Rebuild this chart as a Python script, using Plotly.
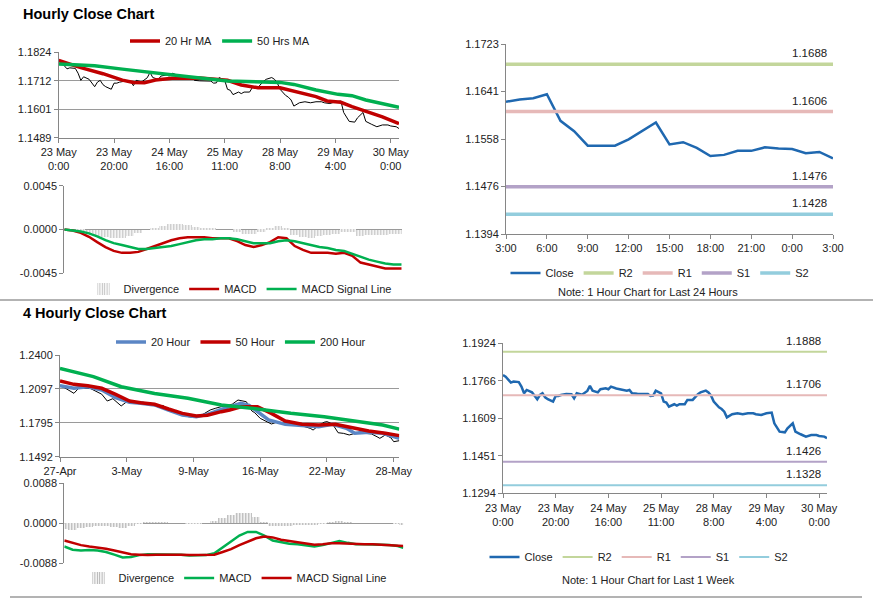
import plotly.graph_objects as go

# ---------------- DATA ----------------
# Hourly (last week) close, index = hour since 23 May 0:00
week_x = [0,1,3,4,6,7,8,9,11,12,13,14,15,16,17,19,20,21,22,24,26,27,28,29,30,32,33,34,36,37,
          39,40,41,43,45,47,48,49,51,53,55,56,57,58,60,61,62,63,65,66,67,69,70,72,73,74,75,77,78,79,
          80,82,83,84,85,87,89,91,93,95,96,98,100,102,103,105,107,108,110,111,113,115,117,119,120,122,123]
week_close = [1.1791,1.1784,1.1759,1.1763,1.1761,1.1742,1.1714,1.1728,1.1718,1.1703,
              1.1689,1.1707,1.1714,1.1697,1.1689,1.1679,1.1703,1.1703,1.1707,1.1711,
              1.1710,1.1693,1.1714,1.1711,1.1708,1.1724,1.1745,1.1725,1.1718,1.1731,
              1.1735,1.1731,1.1742,1.1734,1.1728,1.1725,1.1728,1.1714,1.1712,1.1712,
              1.1711,1.1703,1.1704,1.1725,1.1714,1.1679,1.1675,1.1658,1.1668,1.1662,
              1.1668,1.1668,1.1686,1.1686,1.1700,1.1710,1.1718,1.1725,1.1718,1.1704,
              1.1679,1.1655,1.1648,1.1637,1.1613,1.1626,1.1630,1.1626,1.1630,1.1630,
              1.1626,1.1623,1.1630,1.1633,1.1588,1.1553,1.1550,1.1567,1.1588,1.1553,
              1.1542,1.1532,1.1539,1.1539,1.1535,1.1532,1.1525]
hour_ticks = [0, 20, 40, 60, 80, 100, 120]
hour_labels = ["23 May<br>0:00", "23 May<br>20:00", "24 May<br>16:00", "25 May<br>11:00",
               "28 May<br>8:00", "29 May<br>4:00", "30 May<br>0:00"]

ma20_x = [0,8,16,23,27,31,35,41,51,56,61,66,72,80,87,93,97,102,106,111,117,123]
ma20_y = [1.1792,1.1764,1.1740,1.1715,1.1706,1.1705,1.1715,1.1722,1.1723,1.1720,1.1714,
          1.1696,1.1685,1.1685,1.1667,1.1650,1.1633,1.1628,1.1611,1.1594,1.1571,1.1544]
ma50_x = [0,13,23,35,47,61,72,80,85,93,101,106,111,117,123]
ma50_y = [1.1778,1.1771,1.1758,1.1742,1.1728,1.1711,1.1709,1.1706,1.1698,1.1676,1.1659,
          1.1654,1.1637,1.1624,1.1608]

macd1_x = [0,3,6,9,12,15,18,21,24,27,30,33,36,39,42,45,48,51,54,57,60,63,66,69,72,75,78,81,
           84,87,90,93,96,99,102,105,108,111,114,117,120,123]
macd1 = [0,-0.0001,-0.00035,-0.00075,-0.0013,-0.0018,-0.0022,-0.0024,-0.0024,-0.0023,-0.0020,
         -0.0017,-0.0014,-0.0011,-0.0009,-0.0008,-0.0008,-0.0008,-0.0009,-0.0009,-0.0009,-0.0012,
         -0.0016,-0.0018,-0.0016,-0.0013,-0.0008,-0.0009,-0.0017,-0.0021,-0.0024,-0.0024,-0.0024,
         -0.0025,-0.0024,-0.0027,-0.0034,-0.0036,-0.0038,-0.0040,-0.0040,-0.0040]
signal1 = [0,-0.0001,-0.0002,-0.0004,-0.0007,-0.0011,-0.0014,-0.0016,-0.0018,-0.0020,-0.0020,
           -0.0019,-0.0018,-0.0017,-0.0015,-0.0013,-0.0011,-0.0010,-0.0010,-0.0009,-0.0009,-0.0010,
           -0.0012,-0.0014,-0.0014,-0.0014,-0.0012,-0.0011,-0.0012,-0.0014,-0.0016,-0.0018,-0.0019,
           -0.0021,-0.0022,-0.0025,-0.0028,-0.0031,-0.0033,-0.0035,-0.0036,-0.0036]

# Last 24 hours (29 May 3:00 -> 30 May 3:00)
day_x = list(range(25))
day_close = [1.1623,1.1627,1.1629,1.1636,1.1590,1.1572,1.1547,1.1547,1.1547,1.1558,1.1572,1.1587,
             1.1549,1.1553,1.1543,1.1529,1.1531,1.1538,1.1538,1.1544,1.1542,1.1541,1.1534,1.1536,1.1525]
day_ticks = [0, 3, 6, 9, 12, 15, 18, 21, 24]
day_labels = ["3:00", "6:00", "9:00", "12:00", "15:00", "18:00", "21:00", "0:00", "3:00"]
day_pivots = {"R2": 1.1688, "R1": 1.1606, "S1": 1.1476, "S2": 1.1428}
week_pivots = {"R2": 1.1888, "R1": 1.1706, "S1": 1.1426, "S2": 1.1328}

# 4-hourly (index = 4h bar since 27 Apr)
c4_x = [0,3,5,7,9,11,13,15,17,19,22,24,27,29,32,35,37,40,42,44,46,48,50,52,54,56,58,60,62,64,
        66,67,69,70,72,74,76,78,80,82,84,86,88,90,91,93,95,96,98,100,102,104,106,108,110,112,114,
        115,117,119,120,122]
c4_close = [1.2132,1.2090,1.2058,1.2111,1.2102,1.2100,1.2073,1.2050,1.1989,1.2010,
            1.1945,1.1983,1.1975,1.1983,1.1965,1.1939,1.1950,1.1894,1.1905,1.1864,
            1.1850,1.1843,1.1849,1.1880,1.1909,1.1925,1.1939,1.1945,1.1962,1.1998,
            1.1990,1.1983,1.1900,1.1885,1.1834,1.1810,1.1784,1.1800,1.1796,1.1785,
            1.1790,1.1775,1.1760,1.1745,1.1730,1.1770,1.1800,1.1805,1.1784,1.1706,
            1.1700,1.1686,1.1700,1.1716,1.1700,1.1695,1.1670,1.1656,1.1686,1.1660,
            1.1626,1.1635]
h4_ticks = [0, 24, 48, 72, 96, 120]
h4_labels = ["27-Apr", "3-May", "9-May", "16-May", "22-May", "28-May"]
ma20h_x = [0,5,10,15,20,25,29,34,39,44,49,53,58,62,65,68,71,75,81,87,93,98,103,106,111,116,122]
ma20h_y = [1.2126,1.2103,1.2117,1.2088,1.2019,1.1978,1.1969,1.1954,1.1909,1.1864,1.1849,1.1870,
           1.1915,1.1950,1.1969,1.1950,1.1894,1.1820,1.1781,1.1774,1.1760,1.1781,1.1745,1.1701,
           1.1710,1.1701,1.1656]
ma50h_x = [0,5,10,15,20,25,29,34,39,44,49,53,58,61,65,71,76,81,87,93,99,105,111,117,122]
ma50h_y = [1.2168,1.2138,1.2126,1.2103,1.2049,1.1989,1.1974,1.1960,1.1918,1.1879,1.1855,1.1863,
           1.1894,1.1909,1.1938,1.1938,1.1879,1.1811,1.1781,1.1774,1.1781,1.1751,1.1721,1.1701,1.1680]
ma200h_x = [0,12,22,34,46,58,71,83,95,107,116,122]
ma200h_y = [1.2281,1.2207,1.2117,1.2056,1.2013,1.1954,1.1918,1.1879,1.1849,1.1811,1.1775,1.1738]

macd4_x = [0,3,6,9,12,15,18,21,24,27,30,33,36,39,42,45,48,51,54,57,60,63,66,69,72,75,78,81,
           84,87,90,93,96,99,102,105,108,111,114,117,120,122]
macd4 = [-0.0051,-0.0058,-0.0060,-0.0059,-0.0060,-0.0063,-0.0069,-0.0075,-0.0074,-0.0070,-0.0068,
         -0.0068,-0.0068,-0.0068,-0.0069,-0.0071,-0.0071,-0.0070,-0.0066,-0.0052,-0.0040,-0.0027,
         -0.0019,-0.0019,-0.0027,-0.0038,-0.0042,-0.0045,-0.0046,-0.0048,-0.0051,-0.0048,-0.0043,
         -0.0039,-0.0043,-0.0046,-0.0046,-0.0046,-0.0047,-0.0048,-0.0050,-0.0054]
signal4 = [-0.0038,-0.0043,-0.0048,-0.0051,-0.0053,-0.0056,-0.0060,-0.0064,-0.0068,-0.0069,-0.0070,
           -0.0069,-0.0069,-0.0068,-0.0069,-0.0070,-0.0070,-0.0070,-0.0069,-0.0063,-0.0057,-0.0048,
           -0.0040,-0.0033,-0.0029,-0.0031,-0.0036,-0.0039,-0.0042,-0.0045,-0.0047,-0.0046,-0.0044,
           -0.0044,-0.0045,-0.0046,-0.0046,-0.0046,-0.0047,-0.0048,-0.0049,-0.0050]

# ---------------- STYLE ----------------
FONT = "Liberation Sans, Arial, sans-serif"
TXT = "#222222"
AX = "#868686"
GRID = "#9a9a9a"
RED = "#C00000"
GREEN = "#00B050"
BLUE4 = "#5B86C5"
CLOSE = "#1F68B0"
PIV = {"R2": "#C3D69B", "R1": "#E6B9B8", "S1": "#B3A2C7", "S2": "#93CDDD"}
W, H = 873, 601


def px(x0, x1):
    return [x0 / W, x1 / W]


def py(top, bottom):
    return [1 - bottom / H, 1 - top / H]


fig = go.Figure()

# ---- Panel 1: hourly close with MAs ----
fig.add_trace(go.Scatter(x=week_x, y=week_close, mode="lines", line=dict(color="black", width=1),
                         xaxis="x", yaxis="y", showlegend=False))
fig.add_trace(go.Scatter(x=ma20_x, y=ma20_y, mode="lines", name="20 Hr MA",
                         line=dict(color=RED, width=3.5), xaxis="x", yaxis="y", legend="legend"))
fig.add_trace(go.Scatter(x=ma50_x, y=ma50_y, mode="lines", name="50 Hrs MA",
                         line=dict(color=GREEN, width=3.5), xaxis="x", yaxis="y", legend="legend"))

# ---- Panel 2: hourly MACD ----
div1 = [m - s for m, s in zip(macd1, signal1)]
fig.add_trace(go.Bar(x=macd1_x, y=div1, name="Divergence",
                     marker=dict(color="#808080", line=dict(width=0),
                                 pattern=dict(shape="|", fgcolor="#808080", bgcolor="white", size=3, solidity=0.45)),
                     width=3, xaxis="x2", yaxis="y2", legend="legend2"))
fig.add_trace(go.Scatter(x=macd1_x, y=macd1, mode="lines", name="MACD", line=dict(color=RED, width=2.5),
                         xaxis="x2", yaxis="y2", legend="legend2"))
fig.add_trace(go.Scatter(x=macd1_x, y=signal1, mode="lines", name="MACD Signal Line",
                         line=dict(color=GREEN, width=2.5), xaxis="x2", yaxis="y2", legend="legend2"))

# ---- Panel 3: last 24 hours ----
fig.add_trace(go.Scatter(x=day_x, y=day_close, mode="lines", name="Close", line=dict(color=CLOSE, width=2.5),
                         xaxis="x3", yaxis="y3", legend="legend3"))
for k, v in day_pivots.items():
    fig.add_trace(go.Scatter(x=[day_x[0], day_x[-1]], y=[v, v], mode="lines", name=k,
                             line=dict(color=PIV[k], width=3.5), xaxis="x3", yaxis="y3", legend="legend3"))

# ---- Panel 4: 4-hourly close ----
fig.add_trace(go.Scatter(x=c4_x, y=c4_close, mode="lines", line=dict(color="black", width=1),
                         xaxis="x4", yaxis="y4", showlegend=False))
fig.add_trace(go.Scatter(x=ma20h_x, y=ma20h_y, mode="lines", name="20 Hour", line=dict(color=BLUE4, width=3.5),
                         xaxis="x4", yaxis="y4", legend="legend4"))
fig.add_trace(go.Scatter(x=ma50h_x, y=ma50h_y, mode="lines", name="50 Hour", line=dict(color=RED, width=3.5),
                         xaxis="x4", yaxis="y4", legend="legend4"))
fig.add_trace(go.Scatter(x=ma200h_x, y=ma200h_y, mode="lines", name="200 Hour", line=dict(color=GREEN, width=3.5),
                         xaxis="x4", yaxis="y4", legend="legend4"))

# ---- Panel 5: 4-hourly MACD ----
div4 = [m - s for m, s in zip(macd4, signal4)]
fig.add_trace(go.Bar(x=macd4_x, y=div4, name="Divergence",
                     marker=dict(color="#595959", line=dict(width=0),
                                 pattern=dict(shape="|", fgcolor="#595959", bgcolor="white", size=3, solidity=0.45)),
                     width=3, xaxis="x5", yaxis="y5", legend="legend5"))
fig.add_trace(go.Scatter(x=macd4_x, y=macd4, mode="lines", name="MACD", line=dict(color=GREEN, width=2.5),
                         xaxis="x5", yaxis="y5", legend="legend5"))
fig.add_trace(go.Scatter(x=macd4_x, y=signal4, mode="lines", name="MACD Signal Line",
                         line=dict(color=RED, width=2.5), xaxis="x5", yaxis="y5", legend="legend5"))

# ---- Panel 6: last week ----
fig.add_trace(go.Scatter(x=week_x, y=week_close, mode="lines", name="Close", line=dict(color=CLOSE, width=2.5),
                         xaxis="x6", yaxis="y6", legend="legend6"))
for k, v in week_pivots.items():
    fig.add_trace(go.Scatter(x=[0, week_x[-1]], y=[v, v], mode="lines", name=k,
                             line=dict(color=PIV[k], width=2), xaxis="x6", yaxis="y6", legend="legend6"))

# ---------------- AXES ----------------
tf = dict(family=FONT, size=11, color=TXT)


def xax(dom, rng, anchor, tv=None, tt=None, show=True):
    d = dict(domain=dom, range=rng, anchor=anchor, showgrid=False, zeroline=False, tickfont=tf,
             automargin=False)
    if show:
        d.update(showline=True, linecolor=AX, linewidth=1, ticks="outside", ticklen=4, tickcolor=AX,
                 tickvals=tv, ticktext=tt, tickangle=0)
    else:
        d.update(showline=False, showticklabels=False, ticks="")
    return d


def yax(dom, rng, anchor, tv, tt, grid):
    return dict(domain=dom, range=rng, anchor=anchor, tickvals=tv, ticktext=tt, showgrid=grid,
                gridcolor=GRID, gridwidth=1, zeroline=False, showline=True, linecolor=AX, linewidth=1,
                ticks="outside", ticklen=4, tickcolor=AX, tickfont=tf, automargin=False)


p1_y = [1.1489, 1.1601, 1.1712, 1.1824]
p3_y = [1.1394, 1.1476, 1.1558, 1.1641, 1.1723]
p4_y = [1.1492, 1.1795, 1.2097, 1.2400]
p6_y = [1.1294, 1.1451, 1.1609, 1.1766, 1.1924]

fig.update_layout(
    xaxis=xax(px(58.7, 399), [0, 123], "y", hour_ticks, hour_labels),
    yaxis=yax(py(52.3, 137.7), [p1_y[0], p1_y[-1]], "x", p1_y, [f"{v:.4f}" for v in p1_y], True),
    xaxis2=xax(px(64.3, 401.7), [0, 123], "y2", show=False),
    yaxis2=yax(py(185.7, 273.3), [-0.0045, 0.0045], "x2", [-0.0045, 0, 0.0045],
               ["-0.0045", "0.0000", "0.0045"], True),
    xaxis3=xax(px(506, 833), [0, 24], "y3", day_ticks, day_labels),
    yaxis3=yax(py(44, 234), [p3_y[0], p3_y[-1]], "x3", p3_y, [f"{v:.4f}" for v in p3_y], False),
    xaxis4=xax(px(60, 399.3), [0, 122], "y4", h4_ticks, h4_labels),
    yaxis4=yax(py(355, 456.7), [p4_y[0], p4_y[-1]], "x4", p4_y, [f"{v:.4f}" for v in p4_y], True),
    xaxis5=xax(px(64.3, 403.3), [0, 122], "y5", show=False),
    yaxis5=yax(py(483.3, 563.3), [-0.0088, 0.0088], "x5", [-0.0088, 0, 0.0088],
               ["-0.0088", "0.0000", "0.0088"], True),
    xaxis6=xax(px(503, 827), [0, 123], "y6", hour_ticks, hour_labels),
    yaxis6=yax(py(343.3, 493.3), [p6_y[0], p6_y[-1]], "x6", p6_y, [f"{v:.4f}" for v in p6_y], False),
)

# ---------------- LEGENDS ----------------
def leg(xc, yc):
    return dict(x=xc / W, y=1 - yc / H, xanchor="center", yanchor="middle", orientation="h",
                font=dict(family=FONT, size=11, color=TXT), bgcolor="rgba(0,0,0,0)", itemwidth=30,
                tracegroupgap=0, itemclick=False, itemdoubleclick=False)


fig.update_layout(
    legend=leg(220, 41), legend2=leg(240, 289), legend3=leg(660, 273),
    legend4=leg(241, 342), legend5=leg(235, 578), legend6=leg(639, 557),
)

# ---------------- TEXT ----------------
ann = [
    dict(text="<b>Hourly Close Chart</b>", x=21 / W, y=1 - 14 / H, xanchor="left", yanchor="middle",
         font=dict(family=FONT, size=14.5, color="#000")),
    dict(text="<b>4 Hourly Close Chart</b>", x=21 / W, y=1 - 313 / H, xanchor="left", yanchor="middle",
         font=dict(family=FONT, size=14.5, color="#000")),
    dict(text="Note: 1 Hour Chart for Last 24 Hours", x=648 / W, y=1 - 292 / H, xanchor="center",
         yanchor="middle", font=dict(family=FONT, size=11, color=TXT)),
    dict(text="Note: 1 Hour Chart for Last 1 Week", x=648 / W, y=1 - 580 / H, xanchor="center",
         yanchor="middle", font=dict(family=FONT, size=11, color=TXT)),
]
for k, v in day_pivots.items():
    ann.append(dict(text=f"{v:.4f}", xref="x3", yref="y3", x=day_x[-1], y=v, xanchor="right",
                    yanchor="bottom", xshift=-4, yshift=3, showarrow=False,
                    font=dict(family=FONT, size=11.5, color=TXT)))
for k, v in week_pivots.items():
    ann.append(dict(text=f"{v:.4f}", xref="x6", yref="y6", x=week_x[-1], y=v, xanchor="right",
                    yanchor="bottom", xshift=-4, yshift=3, showarrow=False,
                    font=dict(family=FONT, size=11.5, color=TXT)))
for a in ann:
    a.setdefault("xref", "paper")
    a.setdefault("yref", "paper")
    a.setdefault("showarrow", False)

shapes = [
    dict(type="line", xref="paper", yref="paper", x0=0, x1=1, y0=1 - 300 / H, y1=1 - 300 / H,
         line=dict(color="#9a9a9a", width=1.5)),
    dict(type="line", xref="paper", yref="paper", x0=10 / W, x1=862 / W, y0=1 - 597 / H, y1=1 - 597 / H,
         line=dict(color="#9a9a9a", width=1.5)),
]

fig.update_layout(
    width=W, height=H, margin=dict(l=0, r=0, t=0, b=0, pad=0, autoexpand=False),
    paper_bgcolor="white", plot_bgcolor="white",
    font=dict(family=FONT, size=11, color=TXT), annotations=ann, shapes=shapes, bargap=0,
    hovermode=False,
)

fig.write_html("out.html", config={"displayModeBar": False},
               post_script="document.body.style.margin='0px';document.body.style.overflow='hidden';")
